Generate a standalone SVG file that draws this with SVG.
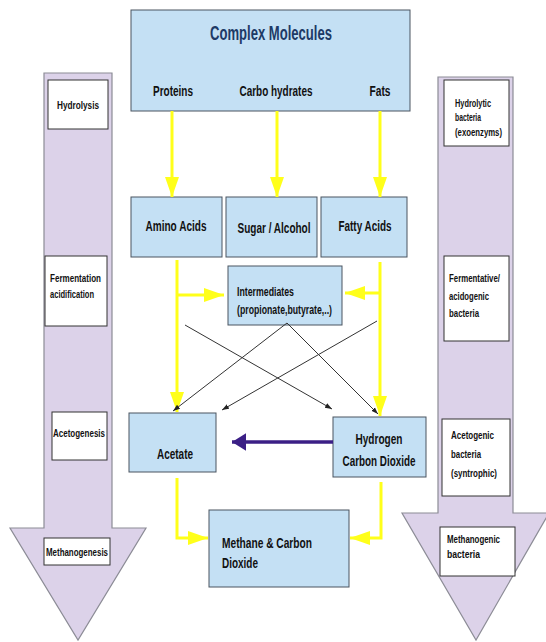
<svg xmlns="http://www.w3.org/2000/svg" width="546" height="642" viewBox="0 0 546 642">
<style>
.bigarrow{fill:#dcd2e9;stroke:#8c8c96;stroke-width:1.2}
.lbl{fill:#fff;stroke:#333;stroke-width:1}
.box{fill:#c4e0f4;stroke:#4a5560;stroke-width:1}
text{font-family:"Liberation Sans",Arial,sans-serif;font-weight:bold;fill:#111}
.s{font-size:11px}
.m{font-size:15px}
.c{text-anchor:middle}
.y{stroke:#ffff1a;stroke-width:3;fill:none}
.k{stroke:#333;stroke-width:1;fill:none}
</style>
<defs>
<marker id="ya" markerWidth="20" markerHeight="14" refX="20" refY="7" orient="auto" markerUnits="userSpaceOnUse"><path d="M0,0 L20,7 L0,14 z" fill="#ffff1a"/></marker>
<marker id="ka" markerWidth="8" markerHeight="8" refX="7" refY="3" orient="auto" markerUnits="strokeWidth"><path d="M0,0.5 L7,3 L0,5.5 z" fill="#222"/></marker>
<marker id="pa" markerWidth="5" markerHeight="5" refX="4" refY="2.5" orient="auto" markerUnits="strokeWidth"><path d="M0,0 L4,2.5 L0,5 z" fill="#3b1f86"/></marker>
</defs>

<g id="left-arrow">
<path class="bigarrow" d="M44,73 L112,73 L112,528 L146,528 L78,640 L10,528 L44,528 Z"/>
</g>
<g id="right-arrow">
<path class="bigarrow" d="M438,77 L513,77 L513,513 L549,513 L476,640 L402,513 L438,513 Z"/>
</g>

<g id="hydrolysis"><rect class="lbl" x="48" y="80" width="60" height="49"/><text class="s c" x="78" y="109" textLength="42" lengthAdjust="spacingAndGlyphs">Hydrolysis</text></g>
<g id="fermentation"><rect class="lbl" x="45" y="256" width="62" height="70"/><text class="s" x="50" y="282" textLength="51" lengthAdjust="spacingAndGlyphs">Fermentation</text><text class="s" x="50" y="298" textLength="44" lengthAdjust="spacingAndGlyphs">acidification</text></g>
<g id="acetogenesis"><rect class="lbl" x="52" y="412" width="55" height="48"/><text class="s c" x="79" y="437" textLength="52" lengthAdjust="spacingAndGlyphs">Acetogenesis</text></g>
<g id="methanogenesis"><rect class="lbl" x="44" y="538" width="66" height="27"/><text class="s c" x="77" y="556" textLength="62" lengthAdjust="spacingAndGlyphs">Methanogenesis</text></g>

<g id="hydrolytic"><rect class="lbl" x="444" y="80" width="65" height="66"/><text class="s" x="455" y="107" textLength="36" lengthAdjust="spacingAndGlyphs">Hydrolytic</text><text class="s" x="455" y="121" textLength="26" lengthAdjust="spacingAndGlyphs">bacteria</text><text class="s" x="455" y="136" textLength="47" lengthAdjust="spacingAndGlyphs">(exoenzyms)</text></g>
<g id="fermentative"><rect class="lbl" x="444" y="256" width="65" height="85"/><text class="s" x="449" y="282" textLength="51" lengthAdjust="spacingAndGlyphs">Fermentative/</text><text class="s" x="449" y="300" textLength="40" lengthAdjust="spacingAndGlyphs">acidogenic</text><text class="s" x="449" y="317" textLength="30" lengthAdjust="spacingAndGlyphs">bacteria</text></g>
<g id="acetogenic"><rect class="lbl" x="442" y="419" width="68" height="77"/><text class="s" x="451" y="439" textLength="43" lengthAdjust="spacingAndGlyphs">Acetogenic</text><text class="s" x="451" y="458" textLength="30" lengthAdjust="spacingAndGlyphs">bacteria</text><text class="s" x="451" y="477" textLength="46" lengthAdjust="spacingAndGlyphs">(syntrophic)</text></g>
<g id="methanogenic"><rect class="lbl" x="440" y="527" width="75" height="49"/><text class="s" x="447" y="543" textLength="53" lengthAdjust="spacingAndGlyphs">Methanogenic</text><text class="s" x="447" y="558" textLength="33" lengthAdjust="spacingAndGlyphs">bacteria</text></g>

<g id="complex"><rect class="box" x="131" y="10" width="279" height="101"/>
<text class="c" x="271" y="40" style="font-size:20px;fill:#1d3a66" textLength="122" lengthAdjust="spacingAndGlyphs">Complex Molecules</text>
<text class="m c" x="173" y="96" textLength="40" lengthAdjust="spacingAndGlyphs">Proteins</text>
<text class="m c" x="276" y="96" textLength="73" lengthAdjust="spacingAndGlyphs">Carbo hydrates</text>
<text class="m c" x="380" y="96" textLength="21" lengthAdjust="spacingAndGlyphs">Fats</text></g>

<g id="amino"><rect class="box" x="131" y="197" width="91" height="60"/><text class="m c" x="176" y="231" textLength="61" lengthAdjust="spacingAndGlyphs">Amino Acids</text></g>
<g id="sugar"><rect class="box" x="226" y="197" width="91" height="60"/><text class="m c" x="274" y="233" textLength="73" lengthAdjust="spacingAndGlyphs">Sugar / Alcohol</text></g>
<g id="fatty"><rect class="box" x="321" y="197" width="86" height="60"/><text class="m c" x="365" y="231" textLength="53" lengthAdjust="spacingAndGlyphs">Fatty Acids</text></g>
<g id="intermediates"><rect class="box" x="228" y="266" width="114" height="59"/><text style="font-size:12px" x="237" y="296" textLength="57" lengthAdjust="spacingAndGlyphs">Intermediates</text><text style="font-size:12px" x="237" y="314" textLength="95" lengthAdjust="spacingAndGlyphs">(propionate,butyrate,..)</text></g>
<g id="acetate"><rect class="box" x="129" y="413" width="87" height="59"/><text class="m c" x="175" y="459" textLength="36" lengthAdjust="spacingAndGlyphs">Acetate</text></g>
<g id="hydrogen"><rect class="box" x="333" y="417" width="93" height="60"/><text class="m c" x="379" y="444" textLength="47" lengthAdjust="spacingAndGlyphs">Hydrogen</text><text class="m c" x="379" y="466" textLength="73" lengthAdjust="spacingAndGlyphs">Carbon Dioxide</text></g>
<g id="methane"><rect class="box" x="209" y="510" width="140" height="77"/><text class="m" x="222" y="548" textLength="90" lengthAdjust="spacingAndGlyphs">Methane &amp; Carbon</text><text class="m" x="222" y="568" textLength="36" lengthAdjust="spacingAndGlyphs">Dioxide</text></g>

<g id="connectors">
<path class="y" d="M172,111 V197" marker-end="url(#ya)"/>
<path class="y" d="M277,111 V197" marker-end="url(#ya)"/>
<path class="y" d="M380,111 V197" marker-end="url(#ya)"/>
<path class="y" d="M177,260 V412" marker-end="url(#ya)"/>
<path class="y" d="M177,295 H224" marker-end="url(#ya)"/>
<path class="y" d="M380,262 V416" marker-end="url(#ya)"/>
<path class="y" d="M380,293 H345" marker-end="url(#ya)"/>
<path class="y" d="M177,478 V538 H208" marker-end="url(#ya)"/>
<path class="y" d="M381,482 V538 H350" marker-end="url(#ya)"/>
<path class="k" d="M185,325 L332,409" marker-end="url(#ka)"/>
<path class="k" d="M287,323 L173,411" marker-end="url(#ka)"/>
<path class="k" d="M287,323 L378,414" marker-end="url(#ka)"/>
<path class="k" d="M377,321 L222,410" marker-end="url(#ka)"/>
<path d="M333,442 H232" stroke="#3b1f86" stroke-width="3.5" fill="none" marker-end="url(#pa)"/>
</g>
</svg>
